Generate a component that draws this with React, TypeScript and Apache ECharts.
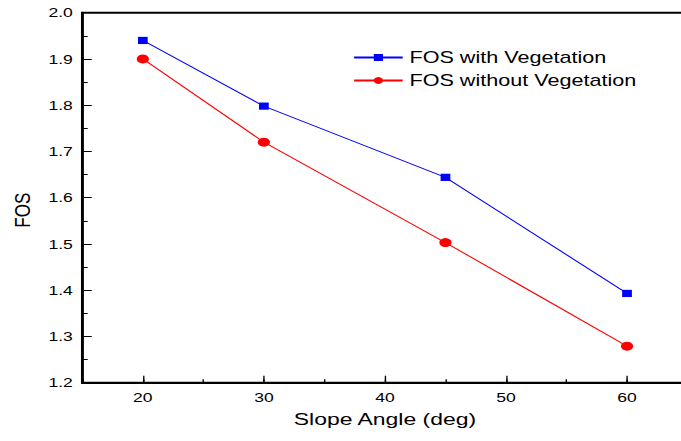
import React, { useEffect, useRef } from "react";
import * as echarts from "echarts";

const angles = [20, 30, 45, 60];
const fosWithVeg = [1.94, 1.798, 1.644, 1.393];
const fosWithoutVeg = [1.9, 1.72, 1.503, 1.279];
const xTickValues = [20, 30, 40, 50, 60];
const seriesNames = ["FOS with Vegetation", "FOS without Vegetation"];

const FONT = "'Liberation Sans', Arial, Helvetica, sans-serif";
const STRETCH = 1.35;
const INNER_W = 510;

export default function App() {
  const ref = useRef<HTMLDivElement>(null);

  useEffect(() => {
    if (!ref.current) return;
    const chart = echarts.init(ref.current, null, { renderer: "svg" });
    const gridLeft = 58.5;
    const gridWidth = 450.8;
    chart.setOption({
      animation: false,
      backgroundColor: "#fff",
      textStyle: { fontFamily: FONT, color: "#000" },
      grid: {
        left: gridLeft,
        width: gridWidth,
        top: 12.7,
        bottom: 58.3,
        show: true,
        borderColor: "#000",
        borderWidth: 2,
        backgroundColor: "transparent",
      },
      legend: {
        data: seriesNames,
        orient: "vertical",
        left: 261.3,
        top: 49.5,
        padding: 0,
        itemWidth: 36,
        itemHeight: 8.5,
        itemGap: 7,
        textStyle: { fontSize: 16, color: "#000", fontFamily: FONT },
      },
      xAxis: [
        {
          type: "value",
          min: 15,
          max: 65,
          interval: 5,
          position: "bottom",
          axisLine: { show: true, lineStyle: { color: "#000", width: 2 } },
          axisTick: { show: true, inside: true, length: 3.5, lineStyle: { color: "#000", width: 1 } },
          axisLabel: { show: false },
          splitLine: { show: false },
        },
        {
          type: "value",
          min: 15,
          max: 65,
          interval: 5,
          position: "bottom",
          axisLine: { show: false },
          axisTick: {
            show: true,
            inside: true,
            length: 7,
            customValues: xTickValues,
            lineStyle: { color: "#000", width: 1 },
          },
          axisLabel: {
            show: true,
            customValues: xTickValues,
            fontSize: 13,
            margin: 8,
            color: "#000",
            fontFamily: FONT,
          },
          splitLine: { show: false },
          name: "Slope Angle (deg)",
          nameLocation: "middle",
          nameGap: 28,
          nameTextStyle: { fontSize: 17, color: "#000", fontFamily: FONT },
        },
      ],
      yAxis: {
        type: "value",
        min: 1.2,
        max: 2.0,
        interval: 0.1,
        axisLine: { show: true, lineStyle: { color: "#000", width: 2 } },
        axisTick: { show: true, inside: true, length: 7, lineStyle: { color: "#000", width: 1 } },
        minorTick: { show: true, splitNumber: 2, length: 4, lineStyle: { color: "#000", width: 1 } },
        axisLabel: {
          fontSize: 13,
          margin: 7,
          color: "#000",
          fontFamily: FONT,
          formatter: (v: number) => v.toFixed(1),
        },
        splitLine: { show: false },
        minorSplitLine: { show: false },
        name: "FOS",
        nameLocation: "middle",
        nameGap: 32,
        nameTextStyle: { fontSize: 17, color: "#000", fontFamily: FONT, padding: [0, 25, 0, 0] },
      },
      series: [
        {
          name: seriesNames[0],
          type: "line",
          xAxisIndex: 0,
          data: angles.map((a, i) => [a, fosWithVeg[i]]),
          symbol: "rect",
          symbolSize: 7.2,
          lineStyle: { color: "#0000ff", width: 1 },
          itemStyle: { color: "#0000ff" },
        },
        {
          name: seriesNames[1],
          type: "line",
          xAxisIndex: 0,
          data: angles.map((a, i) => [a, fosWithoutVeg[i]]),
          symbol: "circle",
          symbolSize: 9,
          lineStyle: { color: "#ff0000", width: 1 },
          itemStyle: { color: "#ff0000" },
        },
      ],
    });
    return () => chart.dispose();
  }, []);

  return (
    <div
      style={{
        position: "absolute",
        left: 0,
        top: 0,
        width: 681,
        height: 441,
        overflow: "hidden",
        background: "#fff",
      }}
    >
      <div
        ref={ref}
        style={{
          width: INNER_W,
          height: 441,
          transform: `scaleX(${STRETCH})`,
          transformOrigin: "0 0",
        }}
      />
    </div>
  );
}
